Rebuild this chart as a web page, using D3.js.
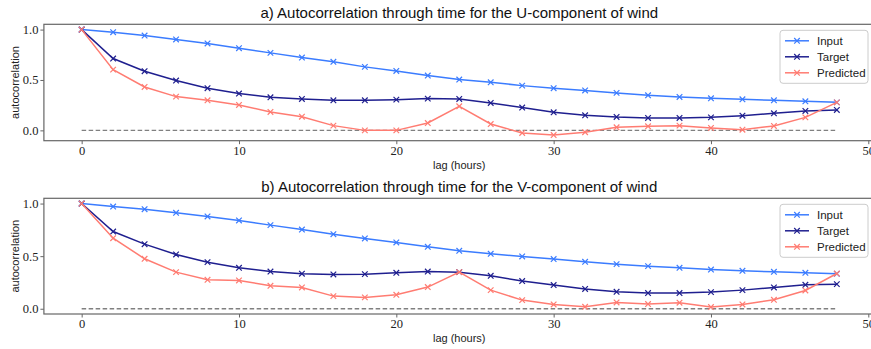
<!DOCTYPE html>
<html>
<head>
<meta charset="utf-8">
<script src="https://cdn.jsdelivr.net/npm/d3@7"></script>
<style>
  html, body { margin: 0; padding: 0; background: #fff; }
  svg { display: block; }
</style>
</head>
<body>
<svg id="chart" width="871" height="349"></svg>
<script>
// Lags in hours
const lags = [0, 2, 4, 6, 8, 10, 12, 14, 16, 18, 20, 22, 24, 26, 28, 30, 32, 34, 36, 38, 40, 42, 44, 46, 48];

// U-component autocorrelation
const uInput = [1.0, 0.974, 0.941, 0.902, 0.862, 0.815, 0.769, 0.723, 0.68, 0.63, 0.59, 0.544, 0.504, 0.477, 0.444, 0.418, 0.396, 0.372, 0.348, 0.332, 0.318, 0.308, 0.298, 0.288, 0.278];
const uTarget = [1.0, 0.713, 0.587, 0.494, 0.418, 0.365, 0.328, 0.312, 0.298, 0.298, 0.305, 0.315, 0.312, 0.272, 0.226, 0.179, 0.15, 0.133, 0.123, 0.123, 0.129, 0.146, 0.169, 0.193, 0.203];
const uPredicted = [1.0, 0.603, 0.431, 0.335, 0.298, 0.252, 0.183, 0.136, 0.047, 0.0, 0.0, 0.073, 0.239, 0.063, -0.026, -0.046, -0.018, 0.03, 0.04, 0.047, 0.024, 0.007, 0.044, 0.129, 0.278];

// V-component autocorrelation
const vInput = [1.0, 0.972, 0.946, 0.912, 0.877, 0.839, 0.795, 0.753, 0.709, 0.668, 0.63, 0.589, 0.551, 0.522, 0.497, 0.472, 0.446, 0.424, 0.405, 0.389, 0.373, 0.361, 0.351, 0.342, 0.332];
const vTarget = [1.0, 0.734, 0.614, 0.516, 0.443, 0.389, 0.354, 0.333, 0.326, 0.329, 0.342, 0.354, 0.348, 0.313, 0.263, 0.225, 0.188, 0.161, 0.149, 0.149, 0.158, 0.177, 0.202, 0.228, 0.234];
const vPredicted = [1.0, 0.671, 0.475, 0.348, 0.275, 0.269, 0.218, 0.202, 0.12, 0.108, 0.133, 0.206, 0.348, 0.177, 0.082, 0.041, 0.018, 0.06, 0.045, 0.057, 0.016, 0.041, 0.085, 0.174, 0.335];

const seriesNames = ["Input", "Target", "Predicted"];
const seriesColors = ["#3b7cff", "#1f1f8f", "#ff7c72"];

const xTicks = [0, 10, 20, 30, 40, 50];
const yTicks = [0.0, 0.5, 1.0];

const panels = [
  { title: "a) Autocorrelation through time for the U-component of wind",
    series: [uInput, uTarget, uPredicted], top: 24.3, bottom: 140.7, yDomain: [-0.1025, 1.0525] },
  { title: "b) Autocorrelation through time for the V-component of wind",
    series: [vInput, vTarget, vPredicted], top: 198.3, bottom: 314, yDomain: [-0.05, 1.05] }
];

const svg = d3.select("#chart");
const left = 43.9, right = 874.6;
const serif = "'Liberation Serif', 'DejaVu Serif', serif";
const sans = "'Liberation Sans', 'DejaVu Sans', sans-serif";

panels.forEach(p => {
  const x = d3.scaleLinear().domain([-2.4, 50.4]).range([left, right]);
  const y = d3.scaleLinear().domain(p.yDomain).range([p.bottom, p.top]);
  const g = svg.append("g");

  // title
  g.append("text")
    .attr("x", (left + right) / 2)
    .attr("y", p.top - 6)
    .attr("text-anchor", "middle")
    .attr("font-family", sans)
    .attr("font-size", 15)
    .attr("fill", "#111")
    .text(p.title);

  // zero reference line
  g.append("line")
    .attr("x1", x(0)).attr("x2", x(48))
    .attr("y1", y(0)).attr("y2", y(0))
    .attr("stroke", "#808080")
    .attr("stroke-width", 1.3)
    .attr("stroke-dasharray", "4.5,2.5");

  // series lines and x markers
  p.series.forEach((vals, i) => {
    const pts = lags.map((l, k) => [l, vals[k]]);
    g.append("path")
      .attr("d", d3.line().x(d => x(d[0])).y(d => y(d[1]))(pts))
      .attr("fill", "none")
      .attr("stroke", seriesColors[i])
      .attr("stroke-width", 1.5);
    const s = 2.8;
    g.append("g").selectAll("path").data(pts).join("path")
      .attr("d", d => {
        const cx = x(d[0]), cy = y(d[1]);
        return `M${cx - s},${cy - s}L${cx + s},${cy + s}M${cx - s},${cy + s}L${cx + s},${cy - s}`;
      })
      .attr("stroke", seriesColors[i])
      .attr("stroke-width", 1.2)
      .attr("fill", "none");
  });

  // axes
  const xAxis = g.append("g")
    .attr("transform", `translate(0,${p.bottom})`)
    .call(d3.axisBottom(x).tickValues(xTicks).tickSize(3.5).tickPadding(2).tickFormat(d3.format("d")));
  const yAxis = g.append("g")
    .attr("transform", `translate(${left},0)`)
    .call(d3.axisLeft(y).tickValues(yTicks).tickSize(3.5).tickPadding(2).tickFormat(d3.format(".1f")));
  [xAxis, yAxis].forEach(a => {
    a.select(".domain").remove();
    a.selectAll(".tick line").attr("stroke", "#555").attr("stroke-width", 0.9);
    a.selectAll(".tick text").attr("font-family", serif).attr("font-size", 12.5).attr("fill", "#222");
  });

  // frame
  g.append("rect")
    .attr("x", left).attr("y", p.top)
    .attr("width", right - left).attr("height", p.bottom - p.top)
    .attr("fill", "none")
    .attr("stroke", "#666")
    .attr("stroke-width", 1.2);

  // axis labels
  g.append("text")
    .attr("x", (left + right) / 2)
    .attr("y", p.bottom + 28)
    .attr("text-anchor", "middle")
    .attr("font-family", sans)
    .attr("font-size", 11)
    .attr("fill", "#222")
    .text("lag (hours)");
  g.append("text")
    .attr("transform", `translate(19,${(p.top + p.bottom) / 2}) rotate(-90)`)
    .attr("text-anchor", "middle")
    .attr("font-family", sans)
    .attr("font-size", 11)
    .attr("fill", "#222")
    .text("autocorrelation");

  // legend
  const lg = g.append("g").attr("transform", `translate(780,${p.top + 6})`);
  lg.append("rect")
    .attr("width", 88).attr("height", 53)
    .attr("rx", 3)
    .attr("fill", "#fff").attr("fill-opacity", 0.85)
    .attr("stroke", "#ccc").attr("stroke-width", 1);
  seriesNames.forEach((name, i) => {
    const cy = 10.5 + i * 16;
    lg.append("line")
      .attr("x1", 5).attr("x2", 29).attr("y1", cy).attr("y2", cy)
      .attr("stroke", seriesColors[i]).attr("stroke-width", 1.5);
    lg.append("path")
      .attr("d", `M14.2,${cy - 2.8}L19.8,${cy + 2.8}M14.2,${cy + 2.8}L19.8,${cy - 2.8}`)
      .attr("stroke", seriesColors[i]).attr("stroke-width", 1.2);
    lg.append("text")
      .attr("x", 37).attr("y", cy + 4)
      .attr("font-family", sans)
      .attr("font-size", 11.5)
      .attr("fill", "#222")
      .text(name);
  });
});
</script>
</body>
</html>
